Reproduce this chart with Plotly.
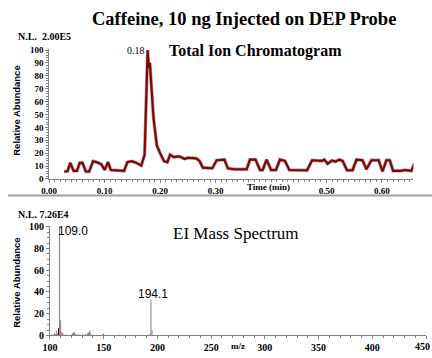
import plotly.graph_objects as go

# ---- Data ----
tic_time = [0.027, 0.033, 0.038, 0.044, 0.050, 0.055, 0.060, 0.066, 0.072, 0.079,
            0.086, 0.094, 0.100, 0.106, 0.111, 0.123, 0.135, 0.141, 0.149, 0.157,
            0.166, 0.172, 0.1775, 0.1795, 0.1815, 0.188, 0.194, 0.200, 0.207, 0.213,
            0.218, 0.225, 0.235, 0.244, 0.250, 0.265, 0.271, 0.277, 0.294, 0.302,
            0.316, 0.322, 0.333, 0.356, 0.362, 0.372, 0.380, 0.385, 0.392, 0.400,
            0.409, 0.416, 0.425, 0.433, 0.465, 0.474, 0.486, 0.492, 0.496, 0.502,
            0.510, 0.516, 0.523, 0.529, 0.537, 0.547, 0.554, 0.565, 0.572, 0.581,
            0.594, 0.601, 0.608, 0.614, 0.620, 0.634, 0.642, 0.653, 0.659]
tic_abund = [5.8, 6, 12.5, 6.3, 6.3, 12.5, 12.5, 5.8, 5.8, 13.8,
             13, 11.3, 7, 13, 7, 6.8, 6.3, 13, 13.8, 12.5,
             10.5, 18.8, 100, 86, 90, 47.6, 26, 20, 13.8, 13,
             18.8, 17, 17.5, 15.5, 16.5, 16, 14, 8.8, 8.3, 14.5,
             15, 8.3, 7.5, 7.5, 15, 15, 7, 7, 15, 7,
             7, 15, 14, 7, 6.8, 14.5, 14.5, 14, 15, 11.8,
             14.3, 13.5, 15, 14, 6.8, 6.8, 15, 14.5, 7.5, 14.5,
             14.5, 5.8, 14.5, 14.5, 6.3, 6.3, 7, 6.3, 12.5]

ms_mz = [102, 104, 105, 106, 107, 109, 110, 111, 112, 113, 115, 120, 121, 122,
         123, 124, 126, 130, 135, 136, 137, 138, 140, 165, 193, 194, 195]
ms_abund = [1, 2, 1.5, 4, 2, 100, 14, 3, 2, 1, 0.8, 1, 2, 3,
            2.5, 1.5, 1, 1, 2, 3, 4.5, 2, 0.8, 1, 1.5, 33, 5]
ms_red_mz = [108, 128, 133, 150]
ms_red_abund = [7, 0.8, 1, 1.5]

tic_xticks = [0.0, 0.1, 0.2, 0.3, 0.5, 0.6]
tic_xlabels = ["0.00", "0.10", "0.20", "0.30", "0.50", "0.60"]
tic_yticks = [0, 10, 20, 30, 40, 50, 60, 70, 80, 90, 100]
ms_xticks = [100, 150, 200, 250, 300, 350, 400, 450]
ms_xlabels = ["100", "150", "200", "250", "300", "350", "400", ""]
ms_last_label = "450"
ms_yticks = [0, 20, 40, 60, 80, 100]

W, H = 432, 358
def px(x):
    return x / W
def py(y):
    return 1 - y / H

def sticks(mz, ab):
    xs, ys = [], []
    for m, a in zip(mz, ab):
        xs += [m, m, None]
        ys += [0, a, None]
    return xs, ys

fig = go.Figure()

# TIC: grey halo + dark red line
fig.add_trace(go.Scatter(x=tic_time, y=tic_abund, mode="lines",
                         line=dict(color="#9a9a9a", width=3.4),
                         xaxis="x", yaxis="y", hoverinfo="skip", showlegend=False))
fig.add_trace(go.Scatter(x=tic_time, y=tic_abund, mode="lines",
                         line=dict(color="#8b0000", width=2.1),
                         xaxis="x", yaxis="y", showlegend=False))

gx, gy = sticks(ms_mz, ms_abund)
fig.add_trace(go.Scatter(x=gx, y=gy, mode="lines",
                         line=dict(color="#808080", width=1),
                         xaxis="x2", yaxis="y2", showlegend=False))
rx, ry = sticks(ms_red_mz, ms_red_abund)
fig.add_trace(go.Scatter(x=rx, y=ry, mode="lines",
                         line=dict(color="#a00000", width=1),
                         xaxis="x2", yaxis="y2", showlegend=False))

tickfont_top = dict(family="Liberation Serif", size=9, color="black", weight="bold")
tickfont_bot = dict(family="Liberation Serif", size=10, color="black", weight="bold")
axis_common = dict(showgrid=False, zeroline=False, showline=True, linecolor="#808080",
                   linewidth=1, ticks="outside", tickcolor="#808080", ticklen=3)

fig.update_layout(
    width=W, height=H,
    margin=dict(l=0, r=0, t=0, b=0),
    paper_bgcolor="white", plot_bgcolor="white",
    showlegend=False,
    xaxis=dict(domain=[px(42), px(413)], range=[0, 0.6566], anchor="y",
               tickvals=tic_xticks, ticktext=tic_xlabels, tickfont=tickfont_top,
               minor=dict(dtick=0.01, tick0=0, ticks="outside", ticklen=2, tickcolor="#808080"),
               **axis_common),
    yaxis=dict(domain=[py(180), py(46)], range=[0, 101], anchor="x",
               tickvals=tic_yticks, tickfont=tickfont_top,
               minor=dict(dtick=2, tick0=0, ticks="outside", ticklen=2, tickcolor="#808080"),
               **axis_common),
    xaxis2=dict(domain=[px(42.7), px(426.3)], range=[100, 450.3], anchor="y2",
                tickvals=ms_xticks, ticktext=ms_xlabels, tickfont=tickfont_bot,
                minor=dict(dtick=10, tick0=100, ticks="outside", ticklen=2, tickcolor="#808080"),
                **axis_common),
    yaxis2=dict(domain=[py(341), py(228)], range=[0, 101], anchor="x2",
                tickvals=ms_yticks, tickfont=tickfont_bot,
                minor=dict(dtick=5, tick0=0, ticks="outside", ticklen=2, tickcolor="#808080"),
                **axis_common),
)

serif_b = "Liberation Serif"
ann = []
def A(x, y, text, size, family=serif_b, bold=True, xanchor="center", yanchor="middle",
      xref="paper", yref="paper", angle=0):
    t = f"<b>{text}</b>" if bold else text
    ann.append(dict(x=x, y=y, xref=xref, yref=yref, text=t, showarrow=False,
                    font=dict(family=family, size=size, color="black"),
                    xanchor=xanchor, yanchor=yanchor, textangle=angle))

A(px(240), py(15), "Caffeine, 10 ng Injected on DEP Probe", 18.5)
A(px(8), py(33), "N.L.  2.00E5", 10, xanchor="left")
A(px(252), py(48), "Total Ion Chromatogram", 16)
A(0.1765, 100, "0.18", 10, bold=False, xanchor="right", yanchor="middle", xref="x", yref="y")
A(px(9), py(110), "Relative Abundance", 9.5, family="Liberation Sans", angle=-90)
A(0.395, py(188), "Time (min)", 9, xref="x")

A(px(8), py(217), "N.L. 7.26E4", 10, xanchor="left")
A(px(232), py(236), "EI Mass Spectrum", 17, bold=False)
A(px(9), py(287), "Relative Abundance", 9.5, family="Liberation Sans", angle=-90)
A(105.5, 96, "109.0", 12, family="Liberation Sans", bold=False, xanchor="left",
  xref="x2", yref="y2")
A(195.5, 38, "194.1", 12, family="Liberation Sans", bold=False, xref="x2", yref="y2")
A(275, py(352), "m/z", 9, xref="x2")
A(1.0, py(352), ms_last_label, 10, xanchor="right")

fig.update_layout(annotations=ann)

# separator line
fig.add_shape(type="line", xref="paper", yref="paper", x0=0, x1=1, y0=py(197), y1=py(197),
              line=dict(color="#a0a0a0", width=2))

fig.write_html("out.html", config={"displayModeBar": False},
               post_script="document.body.style.margin='0';document.body.style.overflow='hidden';")
